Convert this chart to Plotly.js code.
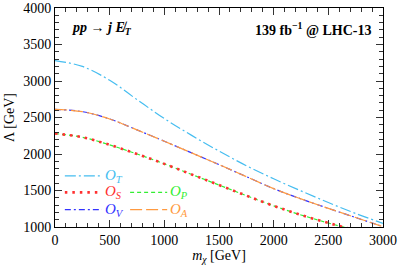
<!DOCTYPE html>
<html><head><meta charset="utf-8">
<script src="https://cdn.plot.ly/plotly-3.0.1.min.js"></script>
<style>html,body{margin:0;padding:0;background:#fff}#c{width:399px;height:266px}</style>
</head><body><div id="c"></div>
<script>
const mchi = [0,250,500,750,1000,1250,1500,1750,2000,2250,2500,2750,3000];
const lamT = [3280,3200,3010,2745,2485,2255,2040,1840,1660,1495,1335,1185,1050];
const lamV = [2612,2580,2480,2330,2175,2015,1855,1690,1525,1385,1255,1130,1005];
const lamA = [2612,2580,2480,2330,2175,2015,1855,1690,1525,1385,1255,1130,1005];
const lamS = [2280,2230,2125,2000,1865,1720,1575,1430,1290,1165,1055,955,865];
const lamP = [2280,2230,2125,2000,1865,1720,1575,1430,1290,1165,1055,955,865];
const xTicks = [0,500,1000,1500,2000,2500,3000];
const yTicks = [1000,1500,2000,2500,3000,3500,4000];

const C = {T:'#45bdf0', S:'#ff3030', P:'#33ee33', V:'#3333ff', A:'#ff9a40'};
const D = {T:'11px,3px,2px,3px', S:'2.5px,5px', P:'4px,3px', V:'6px,3px,2px,3px', A:'12px,4px'};
const W = {T:1.2, S:2.6, P:1.2, V:1.2, A:1.2};

function tr(y, k){ return {x:mchi, y:y, type:'scatter', mode:'lines', line:{color:C[k], dash:D[k], width:W[k], shape:'spline', smoothing:1}, showlegend:false, hoverinfo:'skip'}; }
const data = [tr(lamT,'T'), tr(lamV,'V'), tr(lamA,'A'), tr(lamP,'P'), tr(lamS,'S')];

const serif = 'Liberation Serif, DejaVu Serif, serif';
const leg = [
  {k:'T', sub:'T', x0:0.030, y:0.233},
  {k:'S', sub:'S', x0:0.030, y:0.158},
  {k:'P', sub:'P', x0:0.229, y:0.158},
  {k:'V', sub:'V', x0:0.030, y:0.079},
  {k:'A', sub:'A', x0:0.229, y:0.079}
];
const shapes = leg.map(l => ({type:'line', xref:'paper', yref:'paper', x0:l.x0, x1:l.x0+0.113, y0:l.y, y1:l.y, line:{color:C[l.k], dash:D[l.k], width:W[l.k]}}));
const annotations = leg.map(l => ({xref:'paper', yref:'paper', x:l.x0+0.115, y:l.y, xanchor:'left', yanchor:'middle', showarrow:false, text:'<i>O</i><sub><i>'+l.sub+'</i></sub>', font:{family:serif, size:15, color:C[l.k]}}));
annotations.push({xref:'paper', yref:'paper', x:0.045, y:0.905, xanchor:'left', yanchor:'middle', showarrow:false, text:'<b><i>pp</i> → <i>j</i> <i>E̸</i><sub><i>T</i></sub></b>', font:{family:serif, size:14, color:'#000'}});
annotations.push({xref:'paper', yref:'paper', x:0.97, y:0.905, xanchor:'right', yanchor:'middle', showarrow:false, text:'<b>139 fb<sup>−1</sup> @ LHC-13</b>', font:{family:serif, size:14, color:'#000'}});

const ax = {showgrid:false, zeroline:false, showline:true, linecolor:'#000', linewidth:1, mirror:'allticks', ticks:'inside', ticklen:7, tickwidth:1, tickcolor:'#333', tickfont:{family:serif, size:14, color:'#000'}, automargin:false};
const layout = {
  width:399, height:266, margin:{l:55, r:16, t:8, b:39, autoexpand:false},
  paper_bgcolor:'#fff', plot_bgcolor:'#fff', showlegend:false,
  xaxis:Object.assign({}, ax, {range:[0,3000], tickvals:xTicks, ticktext:xTicks.map(String), minor:{dtick:100, tick0:0, ticks:'inside', ticklen:4, tickcolor:'#333'}, title:{text:'<i>m</i><sub><i>χ</i></sub> [GeV]', font:{family:serif, size:14, color:'#000'}, standoff:3}}),
  yaxis:Object.assign({}, ax, {range:[1000,4000], tickvals:yTicks, ticktext:yTicks.map(String), minor:{dtick:100, tick0:0, ticks:'inside', ticklen:4, tickcolor:'#333'}, title:{text:'Λ [GeV]', font:{family:serif, size:14, color:'#000'}, standoff:5}}),
  shapes:shapes, annotations:annotations
};
Plotly.newPlot('c', data, layout, {staticPlot:true, displayModeBar:false});
</script></body></html>
